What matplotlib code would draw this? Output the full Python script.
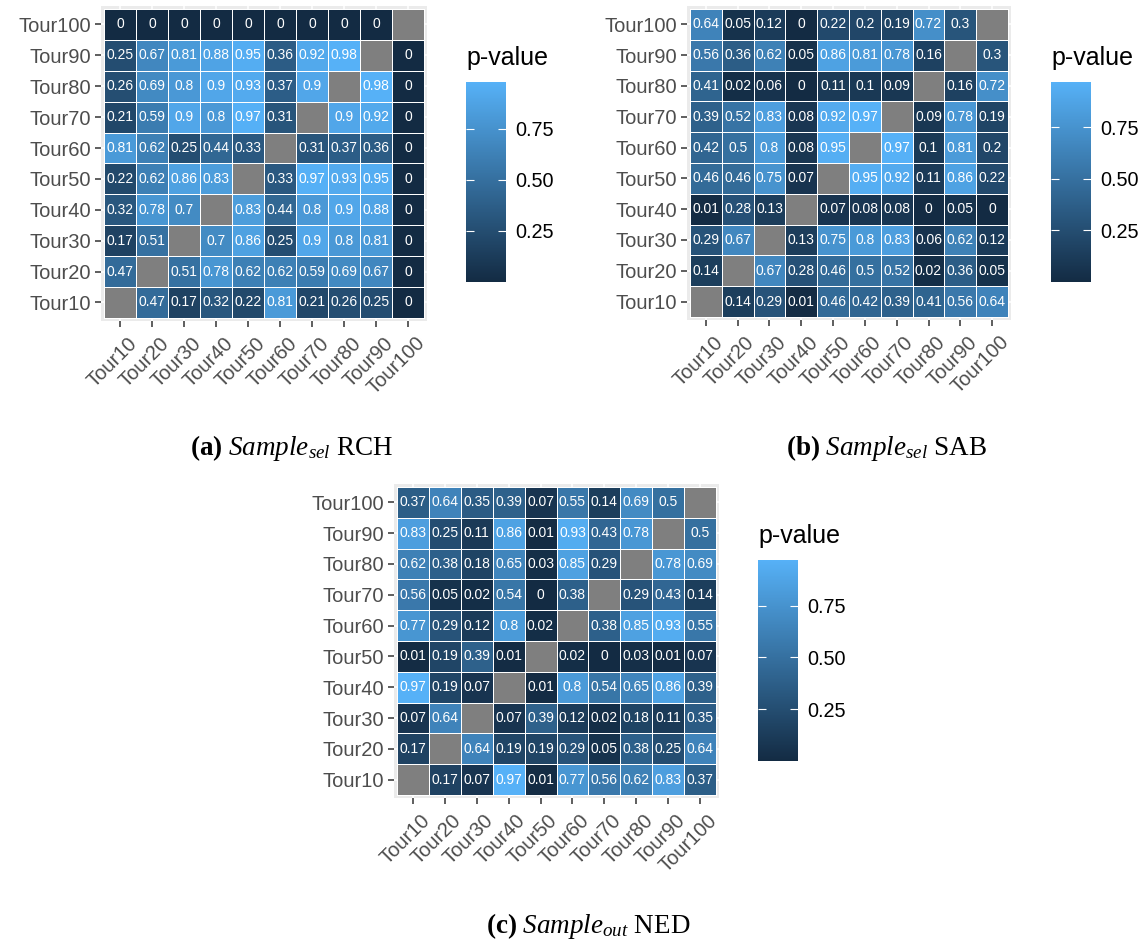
import numpy as np
import matplotlib
matplotlib.use("Agg")
import matplotlib.pyplot as plt
from matplotlib.colors import LinearSegmentedColormap
from matplotlib.transforms import ScaledTranslation

plt.rcParams.update({
    "font.family": ["Liberation Sans", "DejaVu Sans"],
    "mathtext.fontset": "custom",
    "mathtext.rm": "Liberation Serif",
    "mathtext.it": "Liberation Serif:italic",
    "mathtext.bf": "Liberation Serif:bold",
})

tours = ["Tour10", "Tour20", "Tour30", "Tour40", "Tour50",
         "Tour60", "Tour70", "Tour80", "Tour90", "Tour100"]
NA = np.nan

# rows listed top to bottom (Tour100 ... Tour10), columns Tour10 ... Tour100
rch = [
    [0, 0, 0, 0, 0, 0, 0, 0, 0, NA],
    [0.25, 0.67, 0.81, 0.88, 0.95, 0.36, 0.92, 0.98, NA, 0],
    [0.26, 0.69, 0.8, 0.9, 0.93, 0.37, 0.9, NA, 0.98, 0],
    [0.21, 0.59, 0.9, 0.8, 0.97, 0.31, NA, 0.9, 0.92, 0],
    [0.81, 0.62, 0.25, 0.44, 0.33, NA, 0.31, 0.37, 0.36, 0],
    [0.22, 0.62, 0.86, 0.83, NA, 0.33, 0.97, 0.93, 0.95, 0],
    [0.32, 0.78, 0.7, NA, 0.83, 0.44, 0.8, 0.9, 0.88, 0],
    [0.17, 0.51, NA, 0.7, 0.86, 0.25, 0.9, 0.8, 0.81, 0],
    [0.47, NA, 0.51, 0.78, 0.62, 0.62, 0.59, 0.69, 0.67, 0],
    [NA, 0.47, 0.17, 0.32, 0.22, 0.81, 0.21, 0.26, 0.25, 0],
]
sab = [
    [0.64, 0.05, 0.12, 0, 0.22, 0.2, 0.19, 0.72, 0.3, NA],
    [0.56, 0.36, 0.62, 0.05, 0.86, 0.81, 0.78, 0.16, NA, 0.3],
    [0.41, 0.02, 0.06, 0, 0.11, 0.1, 0.09, NA, 0.16, 0.72],
    [0.39, 0.52, 0.83, 0.08, 0.92, 0.97, NA, 0.09, 0.78, 0.19],
    [0.42, 0.5, 0.8, 0.08, 0.95, NA, 0.97, 0.1, 0.81, 0.2],
    [0.46, 0.46, 0.75, 0.07, NA, 0.95, 0.92, 0.11, 0.86, 0.22],
    [0.01, 0.28, 0.13, NA, 0.07, 0.08, 0.08, 0, 0.05, 0],
    [0.29, 0.67, NA, 0.13, 0.75, 0.8, 0.83, 0.06, 0.62, 0.12],
    [0.14, NA, 0.67, 0.28, 0.46, 0.5, 0.52, 0.02, 0.36, 0.05],
    [NA, 0.14, 0.29, 0.01, 0.46, 0.42, 0.39, 0.41, 0.56, 0.64],
]
ned = [
    [0.37, 0.64, 0.35, 0.39, 0.07, 0.55, 0.14, 0.69, 0.5, NA],
    [0.83, 0.25, 0.11, 0.86, 0.01, 0.93, 0.43, 0.78, NA, 0.5],
    [0.62, 0.38, 0.18, 0.65, 0.03, 0.85, 0.29, NA, 0.78, 0.69],
    [0.56, 0.05, 0.02, 0.54, 0, 0.38, NA, 0.29, 0.43, 0.14],
    [0.77, 0.29, 0.12, 0.8, 0.02, NA, 0.38, 0.85, 0.93, 0.55],
    [0.01, 0.19, 0.39, 0.01, NA, 0.02, 0, 0.03, 0.01, 0.07],
    [0.97, 0.19, 0.07, NA, 0.01, 0.8, 0.54, 0.65, 0.86, 0.39],
    [0.07, 0.64, NA, 0.07, 0.39, 0.12, 0.02, 0.18, 0.11, 0.35],
    [0.17, NA, 0.64, 0.19, 0.19, 0.29, 0.05, 0.38, 0.25, 0.64],
    [NA, 0.17, 0.07, 0.97, 0.01, 0.77, 0.56, 0.62, 0.83, 0.37],
]

cmap = LinearSegmentedColormap.from_list("gg", ["#132B43", "#56B1F7"])
cmap.set_bad("#7F7F7F")

W, H = 1148, 943


def px_rect(x0, y0, x1, y1):
    return [x0 / W, 1 - y1 / H, (x1 - x0) / W, (y1 - y0) / H]


def draw_panel(fig, panel_px, cbar_px, rows, caption, cap_xy):
    data = np.array(rows, dtype=float)[::-1]  # bottom row = Tour10
    vmax = np.nanmax(data)
    vmin = np.nanmin(data)

    ax = fig.add_axes(px_rect(*panel_px))
    ax.set_facecolor("#EBEBEB")
    edges = np.arange(len(tours) + 1) - 0.5
    mesh = ax.pcolormesh(edges, edges, np.ma.masked_invalid(data), cmap=cmap,
                         vmin=vmin, vmax=vmax, edgecolors="white", linewidth=0.5)
    for i in range(len(tours)):
        for j in range(len(tours)):
            v = data[i, j]
            if not np.isnan(v):
                ax.text(j, i, f"{v:g}", ha="center", va="center",
                        color="white", fontsize=10)

    ax.set_xlim(-0.6, len(tours) - 0.4)
    ax.set_ylim(-0.6, len(tours) - 0.4)
    ax.set_xticks(range(len(tours)))
    ax.set_yticks(range(len(tours)))
    ax.set_xticklabels(tours, rotation=45, ha="right", va="top",
                       rotation_mode="anchor")
    ax.set_yticklabels(tours)
    ax.tick_params(colors="#333333", labelcolor="#4D4D4D", labelsize=14.5,
                   length=4.3, width=1.1, pad=2.5)
    shift = ScaledTranslation(7 / 100, -3 / 100, fig.dpi_scale_trans)
    for lab in ax.get_xticklabels():
        lab.set_transform(lab.get_transform() + shift)
    ax.grid(color="white", linewidth=1.1)
    ax.set_axisbelow(True)
    for s in ax.spines.values():
        s.set_visible(False)

    cax = fig.add_axes(px_rect(*cbar_px))
    cb = fig.colorbar(mesh, cax=cax)
    cb.outline.set_visible(False)
    cb.set_ticks([0.25, 0.5, 0.75])
    cb.set_ticklabels(["0.25", "0.50", "0.75"])
    cax.tick_params(direction="in", color="white", length=5.8, width=0.8,
                    left=True, right=True, labelsize=14.3, pad=7,
                    labelcolor="black")
    fig.text(cbar_px[0] / W, 1 - cbar_px[1] / H + 17 / H, "p-value",
             fontsize=18, ha="left", va="baseline")

    fig.text(cap_xy[0] / W, 1 - cap_xy[1] / H, caption, fontsize=19.5,
             ha="center", va="center")


fig = plt.figure(figsize=(11.48, 9.43), dpi=100)

draw_panel(fig, (100.8, 5.9, 427.2, 321), (466, 82, 506, 282), rch,
           r"$\mathbf{(a)}\ \mathit{Sample}_{\mathit{sel}}\ \mathrm{RCH}$", (292, 448))
draw_panel(fig, (686.8, 5.9, 1011.2, 320), (1051, 82, 1091, 282), sab,
           r"$\mathbf{(b)}\ \mathit{Sample}_{\mathit{sel}}\ \mathrm{SAB}$", (887, 448))
draw_panel(fig, (393.8, 483.9, 719.2, 798.1), (758, 560, 798, 761), ned,
           r"$\mathbf{(c)}\ \mathit{Sample}_{\mathit{out}}\ \mathrm{NED}$", (588, 926))

fig.savefig("out.png", dpi=100)
